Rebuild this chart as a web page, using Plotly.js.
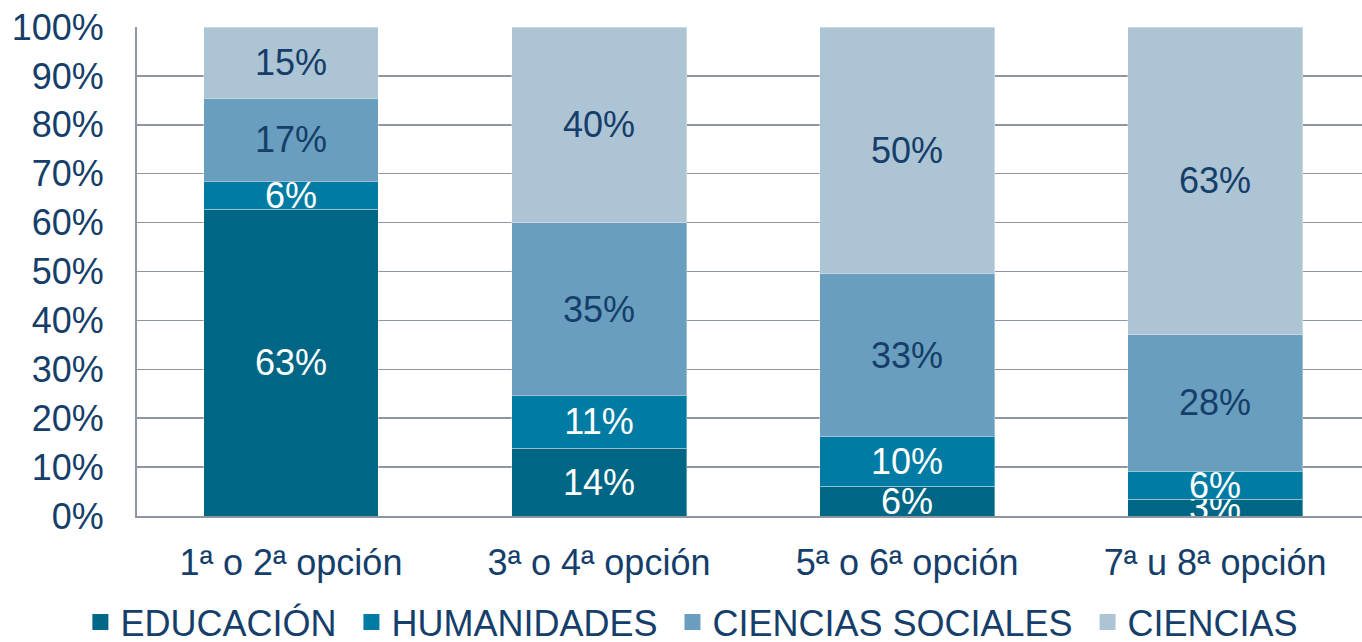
<!DOCTYPE html>
<html><head><meta charset="utf-8">
<script src="https://cdn.plot.ly/plotly-3.0.1.min.js"></script>
<style>html,body{margin:0;padding:0;background:#fff;overflow:hidden}#chart{width:1362px;height:652px}</style>
</head><body><div id="chart"></div>
<script>
const categories = ["1ª o 2ª opción", "3ª o 4ª opción", "5ª o 6ª opción", "7ª u 8ª opción"];
const seriesNames = ["EDUCACIÓN", "HUMANIDADES", "CIENCIAS SOCIALES", "CIENCIAS"];
const educacion = [62.7, 13.9, 6.1, 3.4];
const humanidades = [5.7, 10.7, 10.1, 5.8];
const cienciasSociales = [17.0, 35.4, 33.4, 27.9];
const ciencias = [14.6, 40.0, 50.4, 62.9];
const yTicks = [0, 10, 20, 30, 40, 50, 60, 70, 80, 90, 100];

const values = [educacion, humanidades, cienciasSociales, ciencias];
const colors = ["#006686", "#007BA3", "#6A9EBE", "#ADC4D5"];
const textColors = ["#ffffff", "#ffffff", "#153E6A", "#153E6A"];
const navy = "#153E6A";
const FONT = "Liberation Sans, Arial, sans-serif";

const traces = [];
values.forEach((v, i) => {
  traces.push({
    type: "bar", x: categories, y: v, name: seriesNames[i], showlegend: false,
    marker: {color: colors[i], line: {color: "rgba(255,255,255,0.35)", width: 1}},
    texttemplate: "%{y:.0f}%", textposition: "inside", insidetextanchor: "middle",
    textangle: 0, constraintext: "none",
    textfont: {family: FONT, size: 36, color: textColors[i]},
    hoverinfo: "skip"
  });
});
values.forEach((v, i) => {
  traces.push({
    type: "scatter", mode: "markers", x: [categories[0]], y: [null],
    name: seriesNames[i] + (i < values.length - 1 ? "\u00a0" : ""),
    marker: {symbol: "square", size: 19, color: colors[i]}, hoverinfo: "skip"
  });
});

const layout = {
  width: 1362, height: 652,
  margin: {l: 137, r: 0, t: 27, b: 136},
  paper_bgcolor: "#fff", plot_bgcolor: "#fff",
  barmode: "stack", bargap: 0.432,
  font: {family: FONT, size: 36, color: navy},
  xaxis: {
    type: "category", range: [-0.5, 3.477], showgrid: false, zeroline: false,
    showline: true, linecolor: "#8E95A3", linewidth: 2, ticks: "",
    ticklabelstandoff: 14,
    tickfont: {family: FONT, size: 36, color: navy}
  },
  yaxis: {
    range: [0, 100], tickvals: yTicks, ticktext: yTicks.map(t => t + "%"),
    showgrid: true, gridcolor: "#8E95A3", gridwidth: 1.5, zeroline: false,
    showline: true, linecolor: "#8E95A3", linewidth: 2, ticks: "",
    ticklabelstandoff: 24,
    tickfont: {family: FONT, size: 36, color: navy}
  },
  legend: {
    orientation: "h", xref: "container", yref: "container",
    x: 0.508, xanchor: "center", y: 0, yanchor: "bottom",
    font: {family: FONT, size: 36, color: navy},
    traceorder: "normal", bgcolor: "rgba(0,0,0,0)"
  },
  showlegend: true
};

Plotly.newPlot("chart", traces, layout, {displayModeBar: false, staticPlot: true});
</script></body></html>
